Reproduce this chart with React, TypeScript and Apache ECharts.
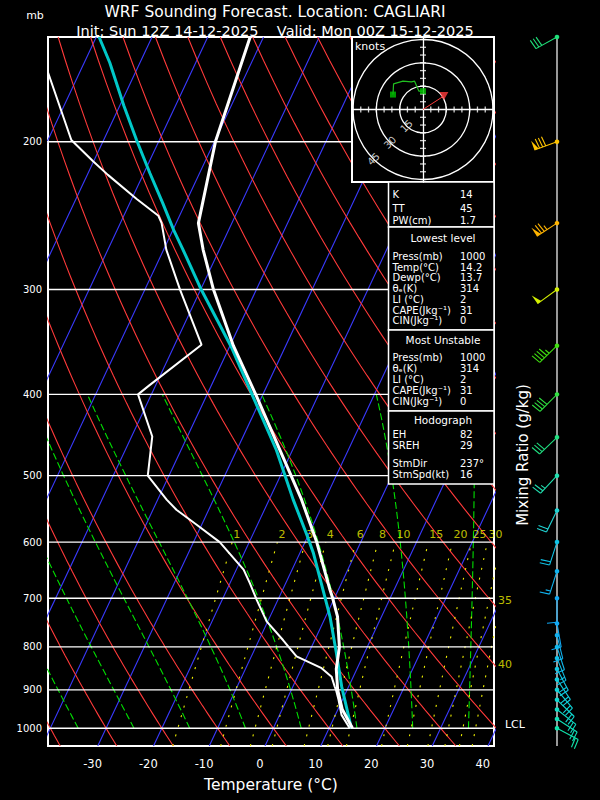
import React, { useEffect, useRef } from "react";
import * as echarts from "echarts";

// ---------- diagram geometry ----------
const P_TOP = 150;
const P_BOT = 1050;
const X_MIN = -38;
const X_MAX = 42;
const SKEW = 30.7; // degC of shift per ln(p) unit
const P_REF = 1082;

// ---------- tick labels ----------
const PRESSURE_TICKS = [200, 300, 400, 500, 600, 700, 800, 900, 1000];
const TEMP_TICKS = [-30, -20, -10, 0, 10, 20, 30, 40];

// ---------- background line families ----------
const ISOTHERMS = [-130, -120, -110, -100, -90, -80, -70, -60, -50, -40, -30, -20, -10, 0, 10, 20, 30, 40];
const DRY_ADIABATS = [-40, -30, -20, -10, 0, 10, 20, 30, 40, 50, 60, 70, 80, 90, 100, 110, 120, 130, 140, 150, 160, 170];
const MOIST_ADIABATS = [-35, -25, -15, -5, 5, 15, 25, 35];
const MIXING_RATIOS = [1, 2, 3, 4, 6, 8, 10, 15, 20, 25, 30, 35, 40];
const MR_TOP_LABELS = [1, 2, 3, 4, 6, 8, 10, 15, 20, 25, 30];
const MR_EDGE_LABELS = [35, 40];
const MR_EDGE_P = [705, 840];
const LCL_P = 991;

// ---------- sounding ----------
const TEMP_P = [1000, 950, 900, 850, 800, 736, 700, 684, 600, 534, 461, 402, 350, 300, 269, 250, 200, 150];
const TEMP_C = [14.2, 10.8, 8.3, 6.3, 5.0, 2.1, -0.3, -1.5, -7.9, -14.2, -22.9, -31.0, -39.4, -47.7, -52.9, -56.0, -59.8, -62.4];

const DEW_P = [1000, 964, 925, 900, 892, 868, 848, 821, 785, 746, 703, 672, 647, 600, 572, 549, 534, 500, 449, 400, 390, 349, 300, 269, 250, 245, 234, 219, 211, 199, 164, 150];
const DEW_C = [13.7, 11.1, 9.3, 8.0, 7.5, 6.1, 3.6, -1.9, -5.7, -10.2, -13.8, -16.4, -18.7, -25.3, -30.9, -35.8, -38.4, -43.8, -46.3, -52.4, -51.1, -45.2, -53.7, -59.5, -62.6, -63.8, -69.1, -76.3, -80.1, -85.8, -96.1, -100];

const PARCEL_P = [1000, 892, 814, 736, 672, 618, 588, 534, 466, 395, 351, 300, 269, 255, 237, 218, 199, 181, 161, 150];
const PARCEL_C = [14.0, 8.75, 5.0, 0.75, -3.6, -7.6, -10.3, -15.7, -22.9, -32.7, -39.7, -49.9, -56.5, -59.8, -64.0, -68.9, -74.1, -79.3, -85.4, -89.5];

// ---------- winds ----------
const WIND_P = [150, 200, 250, 300, 350, 400, 450, 500, 550, 600, 650, 700, 750, 775, 800, 825, 850, 875, 900, 925, 950, 975, 1000];
const WIND_DIR = [241, 250, 237, 234, 226, 225, 226, 223, 206, 198, 198, 180, 170, 166, 162, 158, 152, 146, 140, 134, 128, 123, 118];
const WIND_KT = [30, 80, 75, 50, 45, 40, 30, 25, 20, 20, 15, 10, 10, 10, 12, 15, 18, 20, 20, 22, 22, 22, 20];
const WIND_COLOR = ["#20e07a", "#ffc400", "#ffb400", "#d4f000", "#40e010", "#30e040", "#20e080", "#20e0b0", "#20d4d4", "#10c4e8", "#10b4f0", "#10a8f4", "#10a8f4", "#10b0f0", "#10b8ec", "#10c0e8", "#10c8e4", "#10d0e0", "#10d4d8", "#10d8d0", "#10dcc4", "#10e0b8", "#10e4ac"];

// ---------- hodograph ----------
const HODO_U = [-19.3, -18.9, -12.9, -7.5, -5.4, -3.9, -2.6, 0.0];
const HODO_V = [9.6, 16.5, 18.2, 17.8, 18.2, 14.6, 11.8, 11.8];
const HODO_RINGS = [15, 30, 45];
const HODO_TICKS = [-45, -40, -35, -30, -25, -20, -15, -10, -5, 5, 10, 15, 20, 25, 30, 35, 40, 45];
const STM_DIR = 237;
const STM_SPD = 16;

// ---------- tables ----------
const TABLE1 = [["K", "14"], ["TT", "45"], ["PW(cm)", "1.7"]];
const TABLE2 = [["Press(mb)", "1000"], ["Temp(°C)", "14.2"], ["Dewp(°C)", "13.7"], ["θₑ(K)", "314"], ["LI (°C)", "2"], ["CAPE(Jkg⁻¹)", "31"], ["CIN(Jkg⁻¹)", "0"]];
const TABLE3 = [["Press(mb)", "1000"], ["θₑ(K)", "314"], ["LI (°C)", "2"], ["CAPE(Jkg⁻¹)", "31"], ["CIN(Jkg⁻¹)", "0"]];
const TABLE4 = [["EH", "82"], ["SREH", "29"], ["StmDir", "237°"], ["StmSpd(kt)", "16"]];

const FONT = "DejaVu Sans";

// ---------- helpers ----------
const skewX = (t: number, p: number) => t + SKEW * Math.log(P_REF / p);
const ly = (p: number) => Math.log10(p);
const pt = (t: number, p: number) => [skewX(t, p), ly(p)];

function es(tc: number) {
  return 6.112 * Math.exp((17.67 * tc) / (tc + 243.5));
}
function dryLine(thetaC: number) {
  const out: number[][] = [];
  for (let p = P_BOT; p >= P_TOP; p -= 10) {
    const t = (thetaC + 273.15) * Math.pow(p / 1000, 0.2857) - 273.15;
    out.push(pt(t, p));
  }
  return out;
}
function moistLine(t0: number) {
  const Rd = 287.04, Cp = 1005.7, Lv = 2.501e6, eps = 0.622;
  const f = (tk: number, p: number) => {
    const e = es(tk - 273.15);
    const rs = (eps * e) / (p - e);
    return (Rd * tk + Lv * rs) / (p * (Cp + (Lv * Lv * rs * eps) / (Rd * tk * tk)));
  };
  const out: number[][] = [];
  let tk = t0 + 273.15;
  let p = 1000;
  out.push(pt(t0, p));
  const dp = -2;
  while (p > 400) {
    const k1 = f(tk, p);
    const k2 = f(tk + k1 * dp, p + dp);
    tk += 0.5 * (k1 + k2) * dp;
    p += dp;
    if (Math.round(p) % 10 === 0) out.push(pt(tk - 273.15, p));
  }
  return out;
}
function mrTemp(w: number, p: number) {
  const e = (w * p) / (622 + w);
  const l = Math.log(e / 6.112);
  return (243.5 * l) / (17.67 - l);
}
function mrLine(w: number) {
  const out: number[][] = [];
  for (let p = P_BOT; p >= 600; p -= 25) out.push(pt(mrTemp(w, p), p));
  return out;
}

function buildOption() {
  const series: any[] = [];
  const base = { type: "line", xAxisIndex: 0, yAxisIndex: 0, symbol: "none", silent: true, animation: false };

  ISOTHERMS.forEach((t) =>
    series.push({ ...base, data: [pt(t, P_BOT), pt(t, P_TOP)], lineStyle: { color: "#3a3aff", width: 1.1 }, z: 1 })
  );
  DRY_ADIABATS.forEach((th) =>
    series.push({ ...base, data: dryLine(th), lineStyle: { color: "#ff3a3a", width: 1.1 }, z: 1 })
  );
  MOIST_ADIABATS.forEach((t) =>
    series.push({ ...base, data: moistLine(t), lineStyle: { color: "#00e000", width: 1.1, type: [7, 3] }, z: 1 })
  );
  MIXING_RATIOS.forEach((w) =>
    series.push({ ...base, data: mrLine(w), lineStyle: { color: "#eeee00", width: 1.1, type: [2, 8] }, z: 1 })
  );
  PRESSURE_TICKS.forEach((p) =>
    series.push({ ...base, clip: false, data: [[X_MIN - 0.6, ly(p)], [X_MAX, ly(p)]], lineStyle: { color: "#ffffff", width: 1.4 }, z: 2 })
  );

  // mixing ratio labels
  series.push({
    type: "scatter", xAxisIndex: 0, yAxisIndex: 0, silent: true, symbolSize: 0, clip: false, z: 3,
    data: MR_TOP_LABELS.map((w) => ({ value: pt(mrTemp(w, 600), 600), name: String(w) })),
    label: { show: true, formatter: (d: any) => d.name, position: [1, -13], color: "#eeee00", fontSize: 11, fontFamily: FONT },
  });
  series.push({
    type: "scatter", xAxisIndex: 0, yAxisIndex: 0, silent: true, symbolSize: 0, clip: false, z: 3,
    data: MR_EDGE_LABELS.map((w, i) => ({ value: [X_MAX, ly(MR_EDGE_P[i])], name: String(w) })),
    label: { show: true, formatter: (d: any) => d.name, position: "right", distance: 4, color: "#eeee00", fontSize: 11, fontFamily: FONT },
  });
  // LCL marker
  series.push({
    ...base, clip: false, z: 3,
    data: [[X_MAX + 0.35, ly(LCL_P)], [X_MAX + 1.6, ly(LCL_P)]],
    lineStyle: { color: "#ffffff", width: 1 },
    endLabel: { show: true, formatter: "LCL", color: "#ffffff", fontSize: 11, fontFamily: FONT, distance: 2 },
  });

  // profiles
  series.push({ ...base, data: PARCEL_P.map((p, i) => pt(PARCEL_C[i], p)), lineStyle: { color: "#00c8c8", width: 3 }, z: 4 });
  series.push({ ...base, data: DEW_P.map((p, i) => pt(DEW_C[i], p)), lineStyle: { color: "#ffffff", width: 2 }, z: 4 });
  series.push({ ...base, data: TEMP_P.map((p, i) => pt(TEMP_C[i], p)), lineStyle: { color: "#ffffff", width: 3 }, z: 5 });

  // ----- hodograph (grid 1 + polar) -----
  const hb = { xAxisIndex: 1, yAxisIndex: 1, silent: true, animation: false };
  series.push({
    ...hb, type: "scatter", z: 11, symbol: "rect", symbolSize: [1.3, 6],
    itemStyle: { color: "#ffffff" },
    data: HODO_TICKS.map((u) => [u, 0]),
  });
  series.push({
    ...hb, type: "scatter", z: 11, symbol: "rect", symbolSize: [6, 1.3],
    itemStyle: { color: "#ffffff" },
    data: HODO_TICKS.map((v) => [0, v]),
  });
  series.push({
    ...hb, type: "scatter", z: 12, symbolSize: 0,
    data: HODO_RINGS.map((r) => ({ value: [-r * Math.SQRT1_2, -r * Math.SQRT1_2], name: String(r) })),
    label: { show: true, formatter: (d: any) => d.name, position: "inside", rotate: 45, color: "#ffffff", fontSize: 10, fontFamily: FONT },
  });
  const su = STM_SPD * Math.sin(((STM_DIR - 180) * Math.PI) / 180);
  const sv = STM_SPD * Math.cos(((STM_DIR - 180) * Math.PI) / 180);
  series.push({
    ...hb, type: "line", z: 12, data: [[0, 0], [su, sv]], symbol: "none",
    lineStyle: { color: "#ff3c3c", width: 1 },
  });
  series.push({
    ...hb, type: "scatter", z: 13, data: [[su, sv]], symbol: "triangle", symbolSize: [9, 8], symbolRotate: 180,
    itemStyle: { color: "#ff3c3c" },
  });
  series.push({
    ...hb, type: "line", z: 13, data: HODO_U.map((u, i) => [u, HODO_V[i]]),
    symbol: "none", lineStyle: { color: "#20c020", width: 1.2 },
  });
  series.push({
    ...hb, type: "scatter", z: 14, symbol: "rect", symbolSize: 6, itemStyle: { color: "#00c000" },
    data: [[HODO_U[0], HODO_V[0]], [HODO_U[HODO_U.length - 1], HODO_V[HODO_V.length - 1]]],
  });

  // ----- wind barbs (grid 2) -----
  series.push({
    type: "line", xAxisIndex: 2, yAxisIndex: 2, symbol: "none", silent: true, z: 2,
    data: [[0, ly(P_TOP)], [0, ly(P_BOT)]], lineStyle: { color: "#ffffff", width: 1.2 },
  });
  series.push({
    type: "custom", xAxisIndex: 2, yAxisIndex: 2, silent: true, clip: false, z: 3,
    data: WIND_P.map((p, i) => [0, ly(p), WIND_DIR[i], WIND_KT[i]]),
    encode: { x: 0, y: 1 },
    renderItem: (params: any, api: any) => {
      const i = params.dataIndex;
      const c = api.coord([0, api.value(1)]);
      const dir = (api.value(2) * Math.PI) / 180;
      let spd = Math.round(api.value(3) / 5) * 5;
      const color = WIND_COLOR[i];
      const ux = Math.sin(dir), uy = -Math.cos(dir);
      const px = -uy, py = ux;
      const L = 24, bl = 10, stepB = 3.3, tilt = 0.1;
      const at = (d: number) => [c[0] + ux * d, c[1] + uy * d];
      const kids: any[] = [];
      const e = at(L);
      kids.push({ type: "line", shape: { x1: c[0], y1: c[1], x2: e[0], y2: e[1] }, style: { stroke: color, lineWidth: 1.1 } });
      let pos = L;
      while (spd >= 50) {
        const a = at(pos), b = at(pos - 4.5);
        const tip = [a[0] + px * bl, a[1] + py * bl];
        kids.push({ type: "polygon", shape: { points: [a, tip, b] }, style: { fill: color } });
        pos -= 5.5;
        spd -= 50;
      }
      while (spd >= 10) {
        const a = at(pos);
        kids.push({ type: "line", shape: { x1: a[0], y1: a[1], x2: a[0] + (px + ux * tilt) * bl, y2: a[1] + (py + uy * tilt) * bl }, style: { stroke: color, lineWidth: 1.1 } });
        pos -= stepB;
        spd -= 10;
      }
      if (spd >= 5) {
        if (pos === L) pos -= stepB;
        const a = at(pos);
        kids.push({ type: "line", shape: { x1: a[0], y1: a[1], x2: a[0] + (px + ux * tilt) * bl * 0.5, y2: a[1] + (py + uy * tilt) * bl * 0.5 }, style: { stroke: color, lineWidth: 1.1 } });
      }
      kids.push({ type: "circle", shape: { cx: c[0], cy: c[1], r: 2.3 }, style: { fill: color } });
      return { type: "group", children: kids };
    },
  });

  // ----- graphic: titles, tables -----
  const g: any[] = [];
  const txt = (text: string, x: number, y: number, size: number, align = "left", extra: any = {}) => ({
    type: "text", z: 20, silent: true, x, y, ...extra,
    style: { text, fill: "#ffffff", fontSize: size, fontFamily: FONT, align, verticalAlign: "middle", lineHeight: size },
  });
  g.push(txt("mb", 35, 15, 11, "center"));
  g.push(txt("WRF Sounding Forecast. Location: CAGLIARI", 275, 11.5, 15.5, "center"));
  g.push(txt("Init: Sun 12Z 14-12-2025    Valid: Mon 00Z 15-12-2025", 275, 31, 14.5, "center"));
  g.push(txt("Mixing Ratio (g/kg)", 523, 455, 15, "center", { rotation: Math.PI / 2 }));

  const box = (x: number, y: number, w: number, h: number, lw = 1.5) => ({
    type: "rect", z: 8, silent: true, shape: { x, y, width: w, height: h },
    style: { fill: "#000000", stroke: "#ffffff", lineWidth: lw },
  });
  g.push(box(352, 37, 142, 145, 2));
  g.push(txt("knots", 355, 46, 11, "left"));
  g.push(box(388.5, 182, 105.5, 45));
  g.push(box(388.5, 227, 105.5, 103));
  g.push(box(388.5, 330, 105.5, 81));
  g.push(box(388.5, 411, 105.5, 73));
  const rows = (tab: string[][], ys: number[]) =>
    tab.forEach((r, i) => {
      g.push(txt(r[0], 392.5, ys[i], 10));
      g.push(txt(r[1], 460, ys[i], 10));
    });
  rows(TABLE1, [194.5, 208, 220.5]);
  g.push(txt("Lowest level", 443, 237.5, 10.5, "center"));
  rows(TABLE2, [256, 267, 277.8, 288.5, 299.2, 310, 320.8]);
  g.push(txt("Most Unstable", 443, 339.5, 10.5, "center"));
  rows(TABLE3, [357, 368.3, 379.3, 390.2, 401]);
  g.push(txt("Hodograph", 443, 419.5, 10.5, "center"));
  rows(TABLE4, [434, 445.3, 463.3, 474]);

  const hidden = { show: false };
  return {
    animation: false,
    backgroundColor: "#000000",
    grid: [
      { left: 48, top: 37, width: 446, height: 709, show: true, borderColor: "#ffffff", borderWidth: 2, backgroundColor: "transparent" },
      { left: 352, top: 37, width: 142, height: 145 },
      { left: 514, top: 37, width: 100, height: 709 },
    ],
    xAxis: [
      {
        gridIndex: 0, type: "value", min: X_MIN, max: X_MAX,
        axisLine: hidden, axisTick: hidden, splitLine: hidden,
        axisLabel: { show: true, customValues: TEMP_TICKS, color: "#ffffff", fontSize: 11.5, fontFamily: FONT, margin: 12 },
        name: "Temperature (°C)", nameLocation: "middle", nameGap: 31,
        nameTextStyle: { color: "#ffffff", fontSize: 15.5, fontFamily: FONT },
      },
      {
        gridIndex: 1, type: "value", min: -45.63, max: 45.63, z: 10,
        axisLine: { show: true, onZero: true, lineStyle: { color: "#ffffff", width: 1.3 } },
        axisTick: hidden, axisLabel: hidden, splitLine: hidden,
      },
      { gridIndex: 2, type: "value", min: -1, max: 1, show: false },
    ],
    yAxis: [
      {
        gridIndex: 0, type: "value", inverse: true, min: ly(P_TOP), max: ly(P_BOT),
        axisLine: hidden, axisTick: hidden, splitLine: hidden,
        axisLabel: {
          show: true, customValues: PRESSURE_TICKS.map(ly), color: "#ffffff", fontSize: 10, fontFamily: FONT, margin: 6,
          formatter: (v: number) => String(Math.round(Math.pow(10, v))),
        },
      },
      {
        gridIndex: 1, type: "value", min: -46.6, max: 46.6, z: 10,
        axisLine: { show: true, onZero: true, lineStyle: { color: "#ffffff", width: 1.3 } },
        axisTick: hidden, axisLabel: hidden, splitLine: hidden,
      },
      { gridIndex: 2, type: "value", inverse: true, min: ly(P_TOP), max: ly(P_BOT), show: false },
    ],
    polar: { center: [423, 109.5], radius: 70 },
    radiusAxis: {
      polarIndex: 0, min: 0, max: 45, interval: 15, z: 10,
      axisLine: hidden, axisTick: hidden, axisLabel: hidden,
      splitLine: { show: true, lineStyle: { color: "#ffffff", width: 1.3 } },
    },
    angleAxis: { polarIndex: 0, show: false, min: 0, max: 360 },
    graphic: g,
    series,
  };
}

export default function App() {
  const ref = useRef<HTMLDivElement>(null);
  useEffect(() => {
    if (!ref.current) return;
    const chart = echarts.init(ref.current, undefined, { renderer: "svg" });
    chart.setOption(buildOption() as any);
    return () => chart.dispose();
  }, []);
  return <div ref={ref} style={{ position: "absolute", left: 0, top: 0, width: 600, height: 800, background: "#000" }} />;
}
